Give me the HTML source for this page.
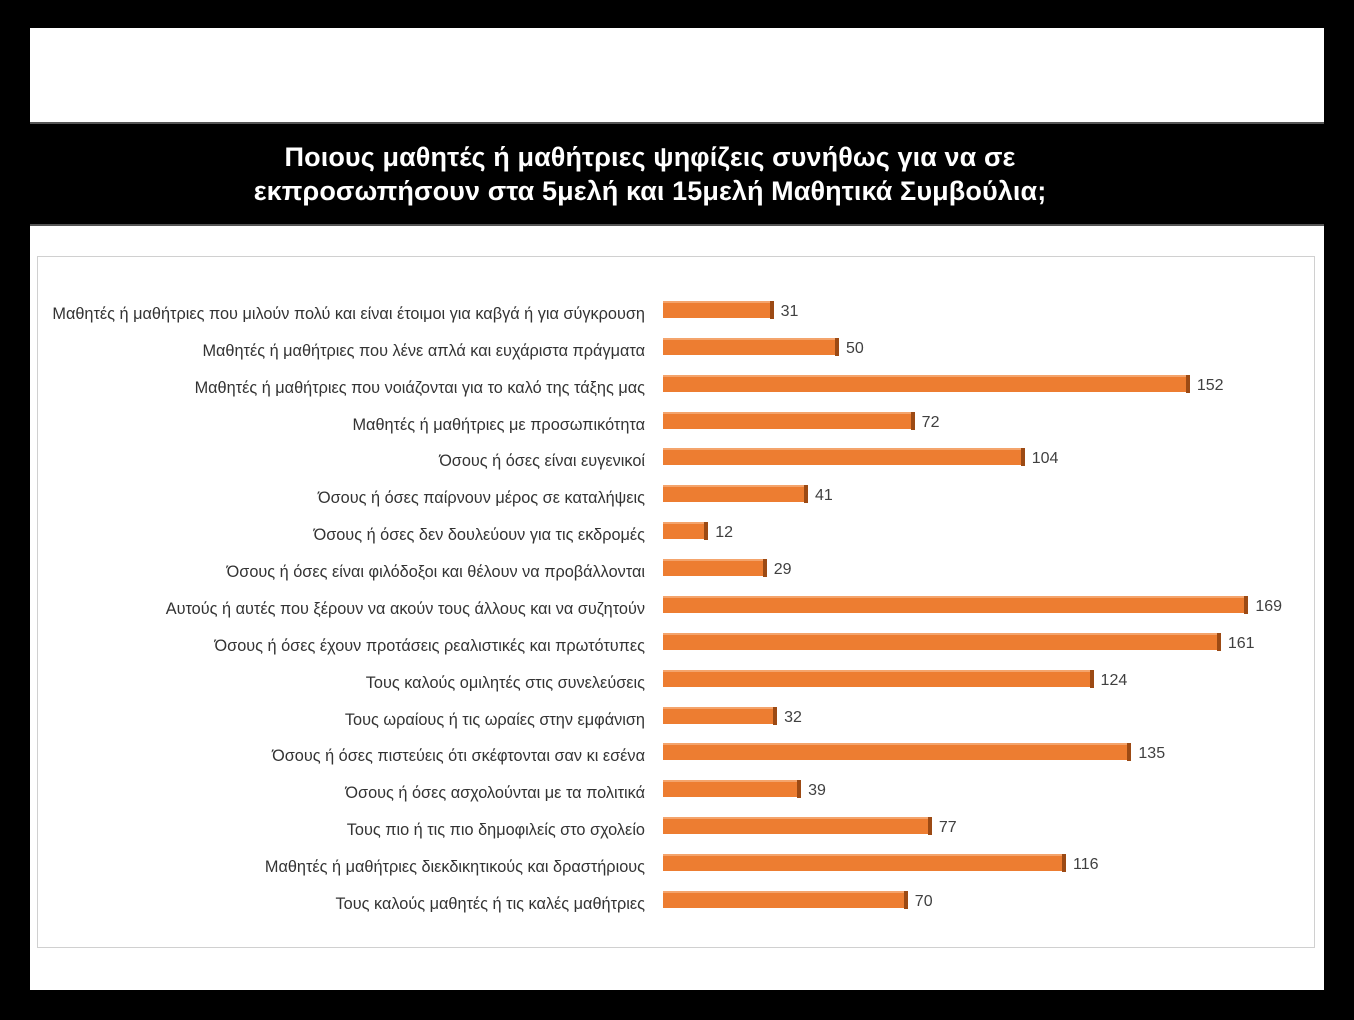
<!DOCTYPE html>
<html><head><meta charset="utf-8"><style>
body{margin:0;width:1354px;height:1020px;background:#000;position:relative;overflow:hidden;font-family:"Liberation Sans","DejaVu Sans",sans-serif}
.white{position:absolute;left:30px;top:28px;width:1294px;height:962px;background:#fff}
.band{position:absolute;left:30px;top:122px;width:1294px;height:104px;background:#000;border-top:2px solid #555;border-bottom:2px solid #555;box-sizing:border-box}
.title{position:absolute;left:3px;top:140px;width:1294px;text-align:center;color:#fff;font-weight:bold;font-size:27px;line-height:34px;letter-spacing:0.1px}
.box{position:absolute;left:37px;top:256px;width:1278px;height:692px;border:1px solid #d0d0d0;box-sizing:border-box}
.lbl{position:absolute;right:709px;font-size:16.3px;color:#333;white-space:nowrap;line-height:18px}
.bar{position:absolute;left:663px;height:17px;background:#ed7d31;border-top:2px solid #f4a46c;box-sizing:border-box}
.bar:after{content:"";position:absolute;right:-4px;top:-2px;width:4px;height:18px;background:#9c4a14}
.val{position:absolute;font-size:16px;color:#404040;line-height:18px}
</style></head><body>
<div class="white"></div>
<div class="band"></div>
<div class="title">Ποιους μαθητές ή μαθήτριες ψηφίζεις συνήθως για να σε<br>εκπροσωπήσουν στα 5μελή και 15μελή Μαθητικά Συμβούλια;</div>
<div class="box"></div>
<div id="c"></div>
<script>
var d=[["Μαθητές ή μαθήτριες που μιλούν πολύ και είναι έτοιμοι για καβγά ή για σύγκρουση",31],
["Μαθητές ή μαθήτριες που λένε απλά και ευχάριστα πράγματα",50],
["Μαθητές ή μαθήτριες που νοιάζονται για το καλό της τάξης μας",152],
["Μαθητές ή μαθήτριες με προσωπικότητα",72],
["Όσους ή όσες είναι ευγενικοί",104],
["Όσους ή όσες παίρνουν μέρος σε καταλήψεις",41],
["Όσους ή όσες δεν δουλεύουν για τις εκδρομές",12],
["Όσους ή όσες είναι φιλόδοξοι και θέλουν να προβάλλονται",29],
["Αυτούς ή αυτές που ξέρουν να ακούν τους άλλους και να συζητούν",169],
["Όσους ή όσες έχουν προτάσεις ρεαλιστικές και πρωτότυπες",161],
["Τους καλούς ομιλητές στις συνελεύσεις",124],
["Τους ωραίους ή τις ωραίες στην εμφάνιση",32],
["Όσους ή όσες πιστεύεις ότι σκέφτονται σαν κι εσένα",135],
["Όσους ή όσες ασχολούνται με τα πολιτικά",39],
["Τους πιο ή τις πιο δημοφιλείς στο σχολείο",77],
["Μαθητές ή μαθήτριες διεκδικητικούς και δραστήριους",116],
["Τους καλούς μαθητές ή τις καλές μαθήτριες",70]];
var h="";
d.forEach(function(r,i){var cy=310+i*36.87;var w=r[1]*3.44;
h+='<div class="lbl" style="top:'+(cy-5)+'px">'+r[0]+'</div>';
h+='<div class="bar" style="top:'+(cy-9)+'px;width:'+w+'px"></div>';
h+='<div class="val" style="top:'+(cy-7)+'px;left:'+(663+w+11)+'px">'+r[1]+'</div>';});
document.getElementById("c").innerHTML=h;
</script>
</body></html>
